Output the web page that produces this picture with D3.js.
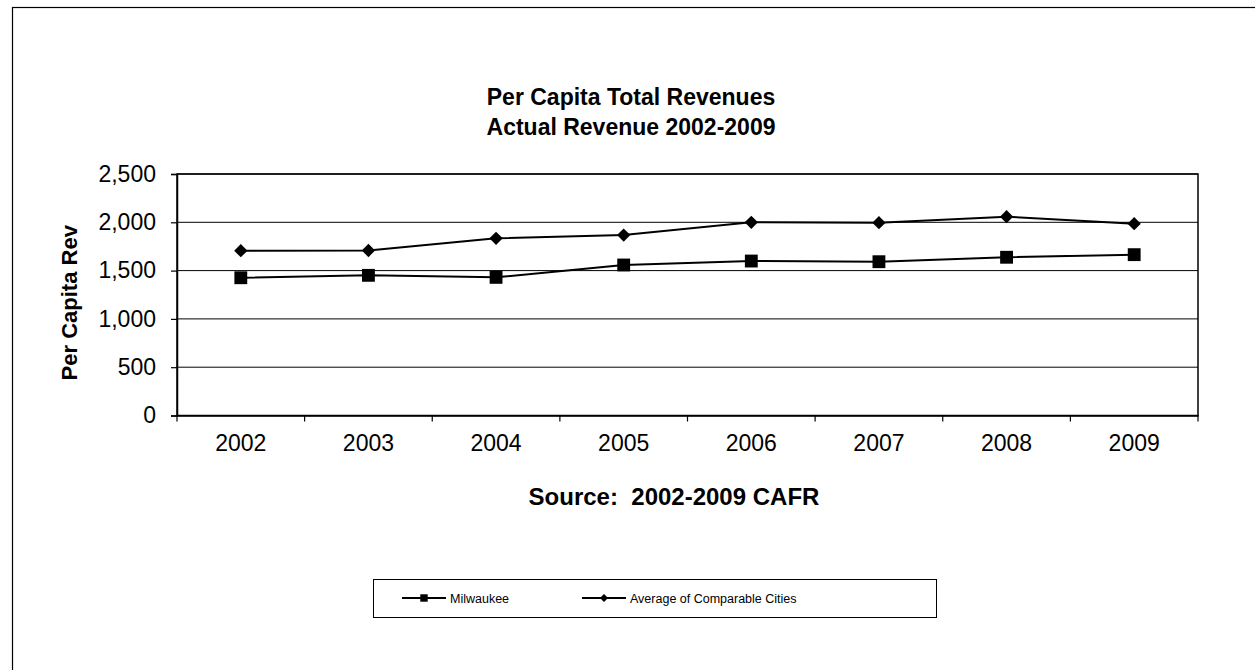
<!DOCTYPE html>
<html>
<head>
<meta charset="utf-8">
<script src="https://cdn.jsdelivr.net/npm/d3@7"></script>
<style>
  html, body { margin: 0; padding: 0; background: #fff; }
  svg { display: block; }
  text { font-family: "Liberation Sans", Arial, sans-serif; fill: #000; }
</style>
</head>
<body>
<svg id="chart" width="1255" height="670"></svg>
<script>
// Per capita total revenues, 2002-2009
const years = ["2002", "2003", "2004", "2005", "2006", "2007", "2008", "2009"];
const milwaukee = [1426, 1451, 1430, 1558, 1599, 1592, 1638, 1665];
const comparableAvg = [1706, 1708, 1834, 1868, 2000, 1996, 2058, 1986];
const yTicks = [0, 500, 1000, 1500, 2000, 2500];
const seriesNames = ["Milwaukee", "Average of Comparable Cities"];

const svg = d3.select("#chart");
const FONT = "Liberation Sans, Arial, sans-serif";

// outer chart frame
svg.append("rect")
  .attr("x", 12.5).attr("y", 7.5)
  .attr("width", 1260).attr("height", 680)
  .attr("fill", "none").attr("stroke", "#000").attr("stroke-width", 1.2);

const plot = { left: 177, top: 174, right: 1198, bottom: 415.5 };

const x = d3.scaleBand().domain(years).range([plot.left, plot.right]);
const y = d3.scaleLinear().domain([0, 2500]).range([plot.bottom, plot.top]);

// titles
svg.append("text").attr("x", 631).attr("y", 105)
  .attr("text-anchor", "middle").attr("font-size", 23).attr("font-weight", "bold")
  .text("Per Capita Total Revenues");
svg.append("text").attr("x", 631).attr("y", 135)
  .attr("text-anchor", "middle").attr("font-size", 23).attr("font-weight", "bold")
  .text("Actual Revenue 2002-2009");

// horizontal gridlines
svg.append("g").selectAll("line").data(yTicks.filter(d => d > 0)).join("line")
  .attr("x1", plot.left).attr("x2", plot.right)
  .attr("y1", d => y(d)).attr("y2", d => y(d))
  .attr("stroke", "#000").attr("stroke-width", 1);

// plot border
svg.append("rect")
  .attr("x", plot.left).attr("y", plot.top)
  .attr("width", plot.right - plot.left).attr("height", plot.bottom - plot.top)
  .attr("fill", "none").attr("stroke", "#000").attr("stroke-width", 1.5);

// y axis
const yAxis = svg.append("g").attr("transform", `translate(${plot.left},0)`)
  .call(d3.axisLeft(y).tickValues(yTicks).tickFormat(d3.format(",")).tickSize(6).tickPadding(15));
yAxis.select(".domain").attr("stroke-width", 1.5);
yAxis.selectAll(".tick line").attr("stroke-width", 1.2);
yAxis.selectAll(".tick text")
  .attr("font-size", 23).attr("font-family", FONT).attr("fill", "#000");

// x axis: ticks at category boundaries
const xAxis = svg.append("g").attr("transform", `translate(0,${plot.bottom})`)
  .call(d3.axisBottom(x).tickSize(0).tickPadding(19));
xAxis.select(".domain").attr("stroke-width", 1.5);
xAxis.selectAll(".tick text")
  .attr("font-size", 23).attr("font-family", FONT).attr("fill", "#000");
const bounds = years.map(d => x(d)).concat([plot.right]);
svg.append("g").selectAll("line").data(bounds).join("line")
  .attr("x1", d => d).attr("x2", d => d)
  .attr("y1", plot.bottom).attr("y2", plot.bottom + 6)
  .attr("stroke", "#000").attr("stroke-width", 1.2);

// axis titles
svg.append("text")
  .attr("transform", `translate(77,${(plot.top + plot.bottom) / 2 + 8}) rotate(-90)`)
  .attr("text-anchor", "middle").attr("font-size", 22).attr("font-weight", "bold")
  .text("Per Capita Rev");
svg.append("text").attr("x", 674).attr("y", 505)
  .attr("text-anchor", "middle").attr("font-size", 24).attr("font-weight", "bold")
  .attr("xml:space", "preserve").style("white-space", "pre")
  .text("Source:  2002-2009 CAFR");

// series lines and markers
const cx = d => x(d) + x.bandwidth() / 2;
const line = d3.line().x(d => cx(d.year)).y(d => y(d.value));
const rows = arr => years.map((yr, i) => ({ year: yr, value: arr[i] }));

const markers = [
  { vals: milwaukee, path: d3.symbol().type(d3.symbolSquare).size(165)(), rot: 0 },
  { vals: comparableAvg, path: d3.symbol().type(d3.symbolSquare).size(88)(), rot: 45 }
];

markers.forEach(m => {
  const data = rows(m.vals);
  svg.append("path").datum(data).attr("d", line)
    .attr("fill", "none").attr("stroke", "#000").attr("stroke-width", 2);
  svg.append("g").selectAll("path").data(data).join("path")
    .attr("transform", d => `translate(${cx(d.year)},${y(d.value)}) rotate(${m.rot})`)
    .attr("d", m.path).attr("fill", "#000");
});

// legend
const legend = svg.append("g");
legend.append("rect")
  .attr("x", 373.5).attr("y", 579.5).attr("width", 563).attr("height", 38)
  .attr("fill", "#fff").attr("stroke", "#000").attr("stroke-width", 1);
const legendItems = [
  { name: seriesNames[0], x0: 402, path: d3.symbol().type(d3.symbolSquare).size(55)(), rot: 0 },
  { name: seriesNames[1], x0: 582, path: d3.symbol().type(d3.symbolSquare).size(32)(), rot: 45 }
];
legendItems.forEach(it => {
  legend.append("line").attr("x1", it.x0).attr("x2", it.x0 + 44)
    .attr("y1", 598).attr("y2", 598).attr("stroke", "#000").attr("stroke-width", 2);
  legend.append("path").attr("transform", `translate(${it.x0 + 22},598) rotate(${it.rot})`)
    .attr("d", it.path).attr("fill", "#000");
  legend.append("text").attr("x", it.x0 + 48).attr("y", 602.5)
    .attr("font-size", 12.5).text(it.name);
});
</script>
</body>
</html>
